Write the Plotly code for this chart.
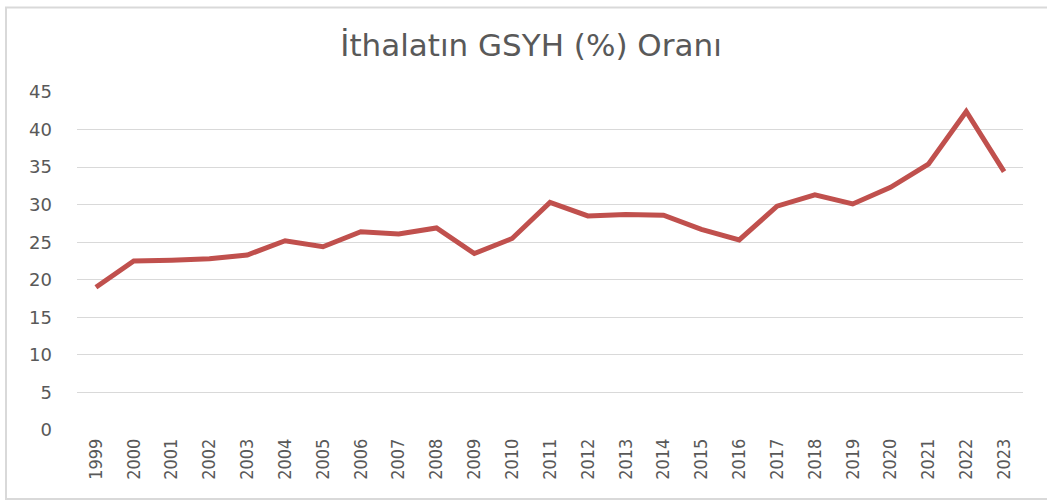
import plotly.graph_objects as go

years = [str(y) for y in range(1999, 2024)]
values = [19.0, 22.5, 22.6, 22.8, 23.3, 25.2, 24.4, 26.4, 26.1, 26.9,
          23.5, 25.5, 30.3, 28.5, 28.7, 28.6, 26.7, 25.3, 29.8, 31.3,
          30.1, 32.3, 35.4, 42.4, 34.4]
y_ticks = [0, 5, 10, 15, 20, 25, 30, 35, 40, 45]
title_text = "İthalatın GSYH (%) Oranı"

fig = go.Figure()
fig.add_trace(go.Scatter(
    x=years, y=values, mode="lines",
    line=dict(color="#C0504D", width=5, shape="linear"),
    hoverinfo="x+y", showlegend=False,
))

W, H = 1047, 500
L, R, T, B = 77, 24, 91.5, 70
pw = W - L - R
ph = H - T - B

def px_x(p):
    return (p - L) / pw

def px_y(p):
    return (H - B - p) / ph

fig.update_layout(
    width=W, height=H,
    margin=dict(l=L, r=R, t=T, b=B, pad=0),
    paper_bgcolor="white", plot_bgcolor="white",
    title=dict(text=title_text, x=531 / W, xanchor="center", y=1 - 45 / H, yanchor="middle",
               font=dict(family="DejaVu Sans, sans-serif", size=31, color="#595959")),
    xaxis=dict(type="category", showgrid=False, showline=False, zeroline=False,
               tickangle=-90, ticks="", ticklen=0, ticklabelstandoff=4,
               tickfont=dict(family="Liberation Sans Narrow, DejaVu Sans Condensed, sans-serif", size=18, color="#595959"),
               range=[-0.5, len(years) - 0.5]),
    yaxis=dict(range=[0, 45], tickvals=y_ticks, showgrid=True, gridcolor="#D9D9D9", gridwidth=1.3,
               zeroline=False, showline=False, ticks="", ticklabelstandoff=24,
               tickfont=dict(family="DejaVu Sans, Verdana, sans-serif", size=18, color="#595959")),
    shapes=[dict(type="rect", xref="paper", yref="paper",
                 x0=px_x(6), x1=px_x(1060), y0=px_y(499), y1=px_y(7),
                 line=dict(color="#D9D9D9", width=2), fillcolor="rgba(0,0,0,0)", layer="below")],
)

fig.write_html("out.html", config={"displayModeBar": False},
               post_script="document.body.style.margin='0';document.body.style.padding='0';")
